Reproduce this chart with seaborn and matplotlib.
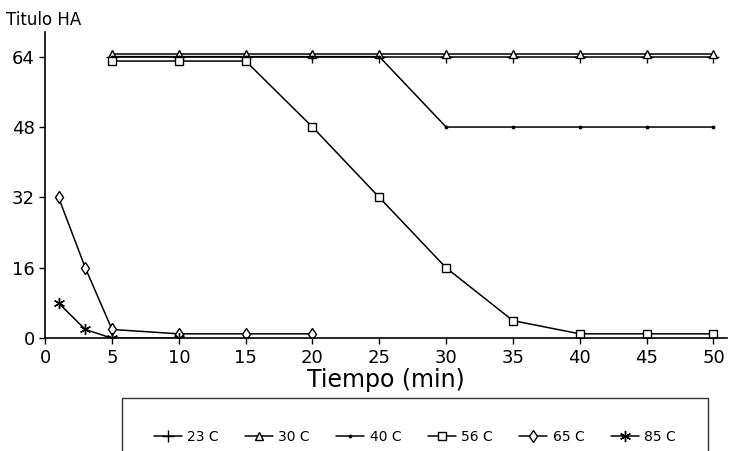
import numpy as np
import pandas as pd
import seaborn as sns
import matplotlib
matplotlib.use("Agg")
import matplotlib.pyplot as plt

# data
t_23 = [5, 10, 15, 20, 25, 30, 35, 40, 45, 50]
y_23 = [64, 64, 64, 64, 64, 64, 64, 64, 64, 64]
t_30 = [5, 10, 15, 20, 25, 30, 35, 40, 45, 50]
y_30 = [64.5, 64.5, 64.5, 64.5, 64.5, 64.5, 64.5, 64.5, 64.5, 64.5]
t_40 = [5, 10, 15, 20, 25, 30, 35, 40, 45, 50]
y_40 = [64, 64, 64, 64, 64, 48, 48, 48, 48, 48]
t_56 = [5, 10, 15, 20, 25, 30, 35, 40, 45, 50]
y_56 = [63, 63, 63, 48, 32, 16, 4, 1, 1, 1]
t_65 = [1, 3, 5, 10, 15, 20]
y_65 = [32, 16, 2, 1, 1, 1]
t_85 = [1, 3, 5, 10]
y_85 = [8, 2, 0, 0]

series = ['23 C', '30 C', '40 C', '56 C', '65 C', '85 C']
times = [t_23, t_30, t_40, t_56, t_65, t_85]
values = [y_23, y_30, y_40, y_56, y_65, y_85]

frames = []
for name, t, v in zip(series, times, values):
    frames.append(pd.DataFrame({'Tiempo': t, 'Titulo': v, 'Serie': name}))
df = pd.concat(frames, ignore_index=True)

marker_style = {
    '23 C': dict(marker='+', markersize=8, mew=1.0),
    '30 C': dict(marker='^', markersize=6, mfc='white', mew=1.0),
    '40 C': dict(marker='.', markersize=4),
    '56 C': dict(marker='s', markersize=6, mfc='white', mew=1.0),
    '65 C': dict(marker='d', markersize=6, mfc='white', mew=1.0),
    '85 C': dict(marker=(6, 2, 0), markersize=8, mew=1.0),
}

sns.set_style("white")
plt.rcParams['font.family'] = ['DejaVu Sans']
plt.rcParams['text.color'] = 'black'
plt.rcParams['axes.labelcolor'] = 'black'

fig = plt.figure(figsize=(7.29, 4.51), dpi=100)
ax = fig.add_axes([0.062, 0.25, 0.935, 0.68])

for name in series:
    sub = df[df['Serie'] == name]
    sns.lineplot(data=sub, x='Tiempo', y='Titulo', ax=ax, color='black',
                 linewidth=1.1, label=name, mec='black', **marker_style[name])

ax.set_xlim(0, 51)
ax.set_ylim(0, 69.7)
ax.set_xticks(range(0, 51, 5))
ax.set_yticks([0, 16, 32, 48, 64])
ax.tick_params(axis='both', labelsize=13, length=4, width=1, direction='out',
               colors='black', bottom=True, left=True)
for s in ['top', 'right']:
    ax.spines[s].set_visible(False)
for s in ['left', 'bottom']:
    ax.spines[s].set_color('black')
    ax.spines[s].set_linewidth(1.2)

ax.set_xlabel('Tiempo (min)', fontsize=17, labelpad=1, color='black')
ax.set_ylabel('')
fig.text(0.008, 0.955, 'Titulo HA', fontsize=12, ha='left', va='center',
         color='black')

ax.get_legend().remove()
handles, labels = ax.get_legend_handles_labels()
leg = fig.legend(handles, labels, loc='upper center', ncol=6,
                 bbox_to_anchor=(0.569, 0.133), frameon=True, fancybox=False,
                 edgecolor='black', fontsize=10, handlelength=2.0,
                 columnspacing=1.9, handletextpad=0.4, borderpad=2.3)
leg.get_frame().set_linewidth(1.0)
for txt in leg.get_texts():
    txt.set_color('black')

fig.savefig('out.png', dpi=100)
